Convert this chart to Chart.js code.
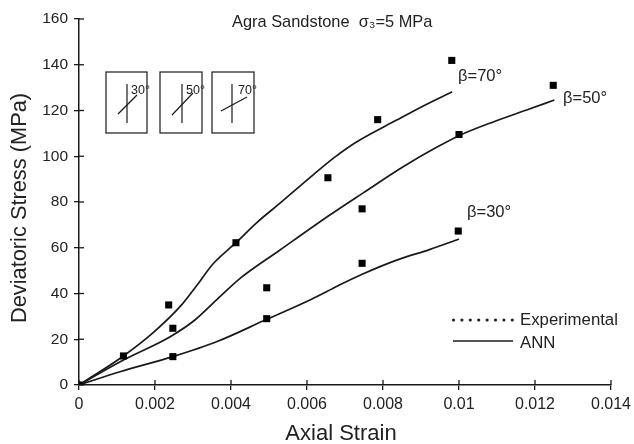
<!DOCTYPE html>
<html><head><meta charset="utf-8">
<style>html,body{margin:0;padding:0;background:#fff}#w{width:634px;height:444px}canvas{filter:blur(0.4px)}</style>
<script src="https://cdn.jsdelivr.net/npm/chart.js@4"></script></head>
<body><div id="w"><canvas id="c" width="634" height="444"></canvas></div>
<script>
const experimental=[[0,0],[0.00117,12.7],[0.00236,35],[0.00247,24.8],[0.00247,12.4],[0.00413,62.2],[0.00494,42.5],[0.00494,29],[0.00655,90.6],[0.00745,77],[0.00745,53.2],[0.00786,116],[0.00981,141.9],[0.01,109.5],[0.00998,67.3],[0.01248,131]];
const ann70=[[0,0],[0.00117,12.7],[0.00196,23],[0.0027,35],[0.0031,43.5],[0.00353,53],[0.00413,62.2],[0.00468,71],[0.00529,79.5],[0.00617,92],[0.00674,99.7],[0.00726,105.8],[0.00836,115.8],[0.00906,122],[0.00982,128.2]];
const ann50=[[0,0],[0.00117,10.9],[0.0024,21.1],[0.00305,28.4],[0.00362,37.2],[0.00424,46.6],[0.00529,59],[0.0066,74.3],[0.00748,84],[0.00853,95.4],[0.00941,103.9],[0.01,109],[0.0109,115],[0.01178,120.2],[0.01251,124.6]];
const ann30=[[0,0],[0.00108,5.8],[0.00247,12.4],[0.00362,18.9],[0.00494,28.7],[0.00612,37.5],[0.00682,43.4],[0.00745,48.4],[0.00836,54.6],[0.00924,59.3],[0.01,63.8]];
const curveLabels=["β=70°","β=50°","β=30°"];
const titleText="Agra Sandstone  σ₃=5 MPa";
const xTitle="Axial Strain";
const yTitle="Deviatoric Stress (MPa)";
const legendLabels=["Experimental","ANN"];
const insetLabels=["30°","50°","70°"];
const xTicks=[0,0.002,0.004,0.006,0.008,0.01,0.012,0.014];
const yTicks=[0,20,40,60,80,100,120,140,160];
const ink="#1a1a1a",F='"Liberation Sans", Arial, sans-serif';
const pt=a=>a.map(([x,y])=>({x,y}));
const line=(d,l)=>({type:'line',label:l,data:pt(d),borderColor:ink,borderWidth:1.7,pointRadius:0,cubicInterpolationMode:'monotone',fill:false});
const decor={id:'decor',afterDraw(ch){
  const c=ch.ctx,X=ch.scales.x,Y=ch.scales.y;
  c.save();c.strokeStyle=ink;c.fillStyle='#222';c.lineWidth=1.3;
  const seg=(a,b,e,d)=>{c.beginPath();c.moveTo(a,b);c.lineTo(e,d);c.stroke();};
  xTicks.forEach(t=>{const p=X.getPixelForValue(t);seg(p,Y.bottom-5,p,Y.bottom);});
  yTicks.forEach(t=>{const p=Y.getPixelForValue(t);seg(X.left,p,X.left+5,p);});
  c.textBaseline='middle';c.textAlign='left';
  c.font='16.4px '+F;c.fillText(titleText,232,22);
  c.font='16.5px '+F;
  c.fillText(curveLabels[0],458,76);c.fillText(curveLabels[1],563,98);c.fillText(curveLabels[2],467,212);
  c.font='16.8px '+F;
  c.fillText(legendLabels[0],520,320);c.fillText(legendLabels[1],520,343);
  for(let i=0;i<8;i++){c.beginPath();c.arc(453.5+i*8.4,320,1.6,0,7);c.fill();}
  seg(453,341,513,341);
  [[106,147,127,118,114,137,95,131],[160,202,182,172,115,193,93,186],[212,254,232,221,111,247,97,238]].forEach((b,i)=>{
    c.lineWidth=1.2;c.strokeRect(b[0],72,b[1]-b[0],61);
    seg(b[2],84,b[2],123);
    seg(b[3],b[4],b[5],b[6]);
    c.font='12.5px '+F;c.fillText(insetLabels[i],b[7],91);
  });
  c.textAlign='center';c.font='22px '+F;
  c.fillText(xTitle,341,434);
  c.translate(20,208);c.rotate(-Math.PI/2);c.font='21.8px '+F;c.fillText(yTitle,0,0);
  c.restore();
}};
new Chart(document.getElementById('c'),{type:'scatter',plugins:[decor],
 data:{datasets:[
  {type:'scatter',label:'Experimental',data:pt(experimental),pointStyle:'rect',pointRadius:5,pointHoverRadius:5,backgroundColor:'#000',borderColor:'#000',borderWidth:0},
  line(ann70,'ANN β=70°'),line(ann50,'ANN β=50°'),line(ann30,'ANN β=30°')
 ]},
 options:{responsive:false,animation:false,
  layout:{padding:{top:19,right:23,left:0,bottom:0}},
  plugins:{legend:{display:false},tooltip:{enabled:false}},
  scales:{
   x:{type:'linear',min:0,max:0.014,afterBuildTicks:s=>{s.ticks=xTicks.map(value=>({value}));},
    afterFit:s=>{s.height=59;s.paddingLeft=0;s.paddingRight=0;},
    border:{color:ink,width:1.5},grid:{drawOnChartArea:false,color:ink,lineWidth:1.3,tickLength:5},
    ticks:{color:'#222',font:{family:F,size:16},padding:5,maxRotation:0,autoSkip:false,callback:v=>String(v)}},
   y:{type:'linear',min:0,max:160,afterBuildTicks:s=>{s.ticks=yTicks.map(value=>({value}));},
    afterFit:s=>{s.width=79;s.paddingTop=0;s.paddingBottom=0;},
    border:{color:ink,width:1.5},grid:{drawOnChartArea:false,color:ink,lineWidth:1.3,tickLength:5},
    ticks:{color:'#222',font:{family:F,size:15.5},padding:6,autoSkip:false}}
  }}});
</script></body></html>
